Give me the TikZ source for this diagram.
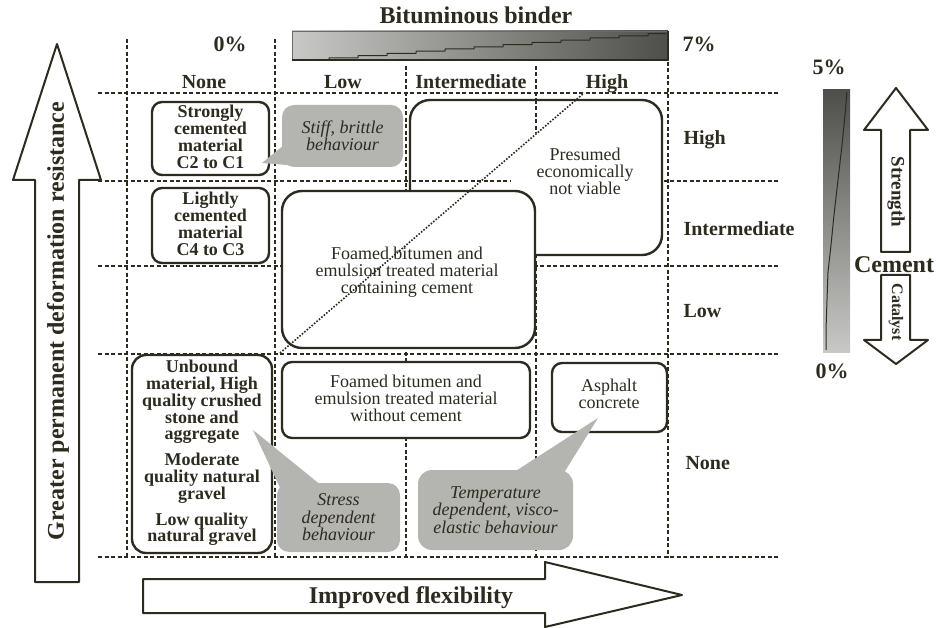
\documentclass[tikz,border=0pt]{standalone}
\usepackage{fontspec}
\setmainfont{Liberation Serif}
\definecolor{ink}{RGB}{45,43,32}
\definecolor{callgray}{RGB}{180,180,176}
\definecolor{barlight}{RGB}{200,200,198}
\definecolor{bardark}{RGB}{78,78,74}
\newcommand\myfs[2]{\fontsize{#1}{#2}\selectfont}
\begin{document}
\begin{tikzpicture}[x=1pt,y=-1pt,line join=round,
  gridline/.style={draw=ink,line width=1.1pt,dash pattern=on 4pt off 2.5pt},
  matbox/.style={draw=ink,line width=2.4pt,fill=white,rounded corners=#1,inner sep=0pt},
  matbox/.default=10pt,
  callout/.style={fill=callgray,rounded corners=12pt,inner sep=0pt,align=center,
     font=\myfs{18}{17.5}\itshape,text=ink},
  fatarrow/.style={draw=ink,line width=2pt,fill=white},
  boldtxt/.style={font=\myfs{18}{16.8}\bfseries,text=ink,align=center},
  regtxt/.style={font=\myfs{18}{17}\bfseries\mdseries,text=ink,align=center},
  headtxt/.style={font=\myfs{20}{22}\bfseries,text=ink},
  bigtxt/.style={font=\myfs{24}{26}\bfseries,text=ink},
  pcttxt/.style={font=\myfs{22}{24}\bfseries,text=ink}]
\useasboundingbox (0,0) rectangle (940,628);

% ---------------- grid ----------------
\draw[gridline] (127,39) -- (127,558);
\draw[gridline] (275,39) -- (275,558);
\draw[gridline] (406,66) -- (406,558);
\draw[gridline] (536,66) -- (536,558);
\draw[gridline] (668,62) -- (668,558);
\draw[gridline] (98,93) -- (780,93);
\draw[gridline] (98,181) -- (780,181);
\draw[gridline] (98,266) -- (780,266);
\draw[gridline] (98,354) -- (780,354);
\draw[gridline] (98,557) -- (780,557);

% ---------------- bituminous binder bar ----------------
\node[bigtxt,anchor=base] (bbtitle) at (476,24) {Bituminous binder};
\shade[left color=barlight,right color=bardark] (292,31) rectangle (668,60);
\draw[ink!70,line width=0.6pt] (292,31) rectangle (668,60);
\draw[ink,line width=1.4pt] (292,60) -- (668,60) -- (668,31);
\draw[ink,line width=1pt] (300,60) \foreach \i in {1,...,12}{ -- ++(29,0) -- ++(0,-2.2)} -- (666,33.6);
\node[pcttxt,anchor=base] (bb0) at (230,52) {0\%};
\node[pcttxt,anchor=base] (bb7) at (699,52) {7\%};

% column headers
\node[headtxt,anchor=base] (colnone) at (204,89) {None};
\node[headtxt,anchor=base] (collow) at (343,89) {Low};
\node[headtxt,anchor=base] (colint) at (471,89) {Intermediate};
\node[headtxt,anchor=base] (colhigh) at (607,89) {High};

% row headers
\node[headtxt,anchor=base west] (rowhigh) at (680,145) {High};
\node[headtxt,anchor=base west] (rowint) at (680,236) {Intermediate};
\node[headtxt,anchor=base west] (rowlow) at (680,318) {Low};
\node[headtxt,anchor=base west] (rownone) at (682,469) {None};

% ---------------- cement bar and arrows ----------------
\shade[top color=bardark,bottom color=barlight] (823,90) rectangle (850,353);
\draw[ink,line width=1pt] (826,350) -- (826,330) -- (827,300) -- (828,272) -- (831,245)
   -- (834,215) -- (838,180) -- (842,145) -- (845,115) -- (847,92);
\node[pcttxt] (cem5) at (829,67) {5\%};
\node[pcttxt] (cem0) at (832,371) {0\%};
\draw[fatarrow] (881,252) -- (881,130) -- (864,130) -- (896,88) -- (928,130) -- (910,130) -- (910,252) -- cycle;
\draw[fatarrow] (881,275) -- (910,275) -- (910,340) -- (928,340) -- (896,364) -- (864,340) -- (881,340) -- cycle;
\node[font=\myfs{19}{20}\bfseries,text=ink,rotate=-90] (strength) at (896,192) {Strength};
\node[font=\myfs{16}{17}\bfseries,text=ink,rotate=-90] (catalyst) at (896,312) {Catalyst};
\node[bigtxt] (cement) at (894,265) {Cement};

% ---------------- big fat arrows ----------------
\draw[fatarrow] (35,582) -- (35,180) -- (13,180) -- (57,44) -- (101,180) -- (79,180) -- (79,582) -- cycle;
\node[bigtxt,rotate=90] (gpdr) at (58,321) {Greater permanent deformation resistance};
\draw[fatarrow] (143,579) -- (545,579) -- (545,562) -- (682,595) -- (545,627) -- (545,613) -- (143,613) -- cycle;
\node[bigtxt] (flex) at (411,598) {Improved flexibility};

% ---------------- material boxes ----------------
\node[matbox=10pt,minimum width=117pt,minimum height=73pt] (strong) at (210.5,138.5) {};
\node[boldtxt] (strongtxt) at (210.5,137) {Strongly\\cemented\\material\\C2 to C1};
\node[matbox=10pt,minimum width=117pt,minimum height=75pt] (light) at (210.5,225.5) {};
\node[boldtxt] (lighttxt) at (210.5,224) {Lightly\\cemented\\material\\C4 to C3};

\node[matbox=20pt,minimum width=252pt,minimum height=155pt] (presumed) at (536,177.5) {};
\draw[gridline] (536,100) -- (536,133);
\draw[gridline] (412,181) -- (510,181);
\node[regtxt] (presumedtxt) at (585,171) {Presumed\\economically\\not viable};

\node[matbox=20pt,minimum width=253pt,minimum height=157pt] (withcem) at (408.5,269.5) {};
\node[regtxt] (withcemtxt) at (407,272) {Foamed bitumen and\\emulsion treated material\\containing cement};

\node[matbox=10pt,minimum width=248pt,minimum height=76pt] (nocem) at (406,400) {};
\node[regtxt] (nocemtxt) at (406,398) {Foamed bitumen and\\emulsion treated material\\without cement};

\node[matbox=10pt,minimum width=115pt,minimum height=69pt] (asphalt) at (609.5,397.5) {};
\node[regtxt] (asphalttxt) at (609,394) {Asphalt\\concrete};

\node[matbox=14pt,minimum width=140pt,minimum height=198pt] (unbound) at (202,454) {};
\node[boldtxt] (unboundtxt) at (202,453) {Unbound\\material, High\\quality crushed\\stone and\\aggregate\\[9pt]Moderate\\quality natural\\gravel\\[9pt]Low quality\\natural gravel};

% diagonal
\draw[ink,line width=1.6pt,dash pattern=on 1.6pt off 1.6pt] (280,353) -- (584,93);

% ---------------- callouts ----------------
\fill[callgray] (262,163) -- (290,140) -- (300,166) -- cycle;
\node[callout,minimum width=121pt,minimum height=62pt] (stiff) at (342.5,136) {Stiff, brittle\\behaviour};

\fill[callgray] (253,430) -- (282,492) -- (322,486) -- cycle;
\node[callout,minimum width=123pt,minimum height=69pt] (stress) at (338.5,517.5) {Stress\\dependent\\behaviour};

\fill[callgray] (598,418) -- (508,476) -- (562,476) -- cycle;
\node[callout,rounded corners=14pt,minimum width=155pt,minimum height=80pt] (temp) at (495.5,510) {Temperature\\dependent, visco-\\elastic behaviour};

\end{tikzpicture}
\end{document}
